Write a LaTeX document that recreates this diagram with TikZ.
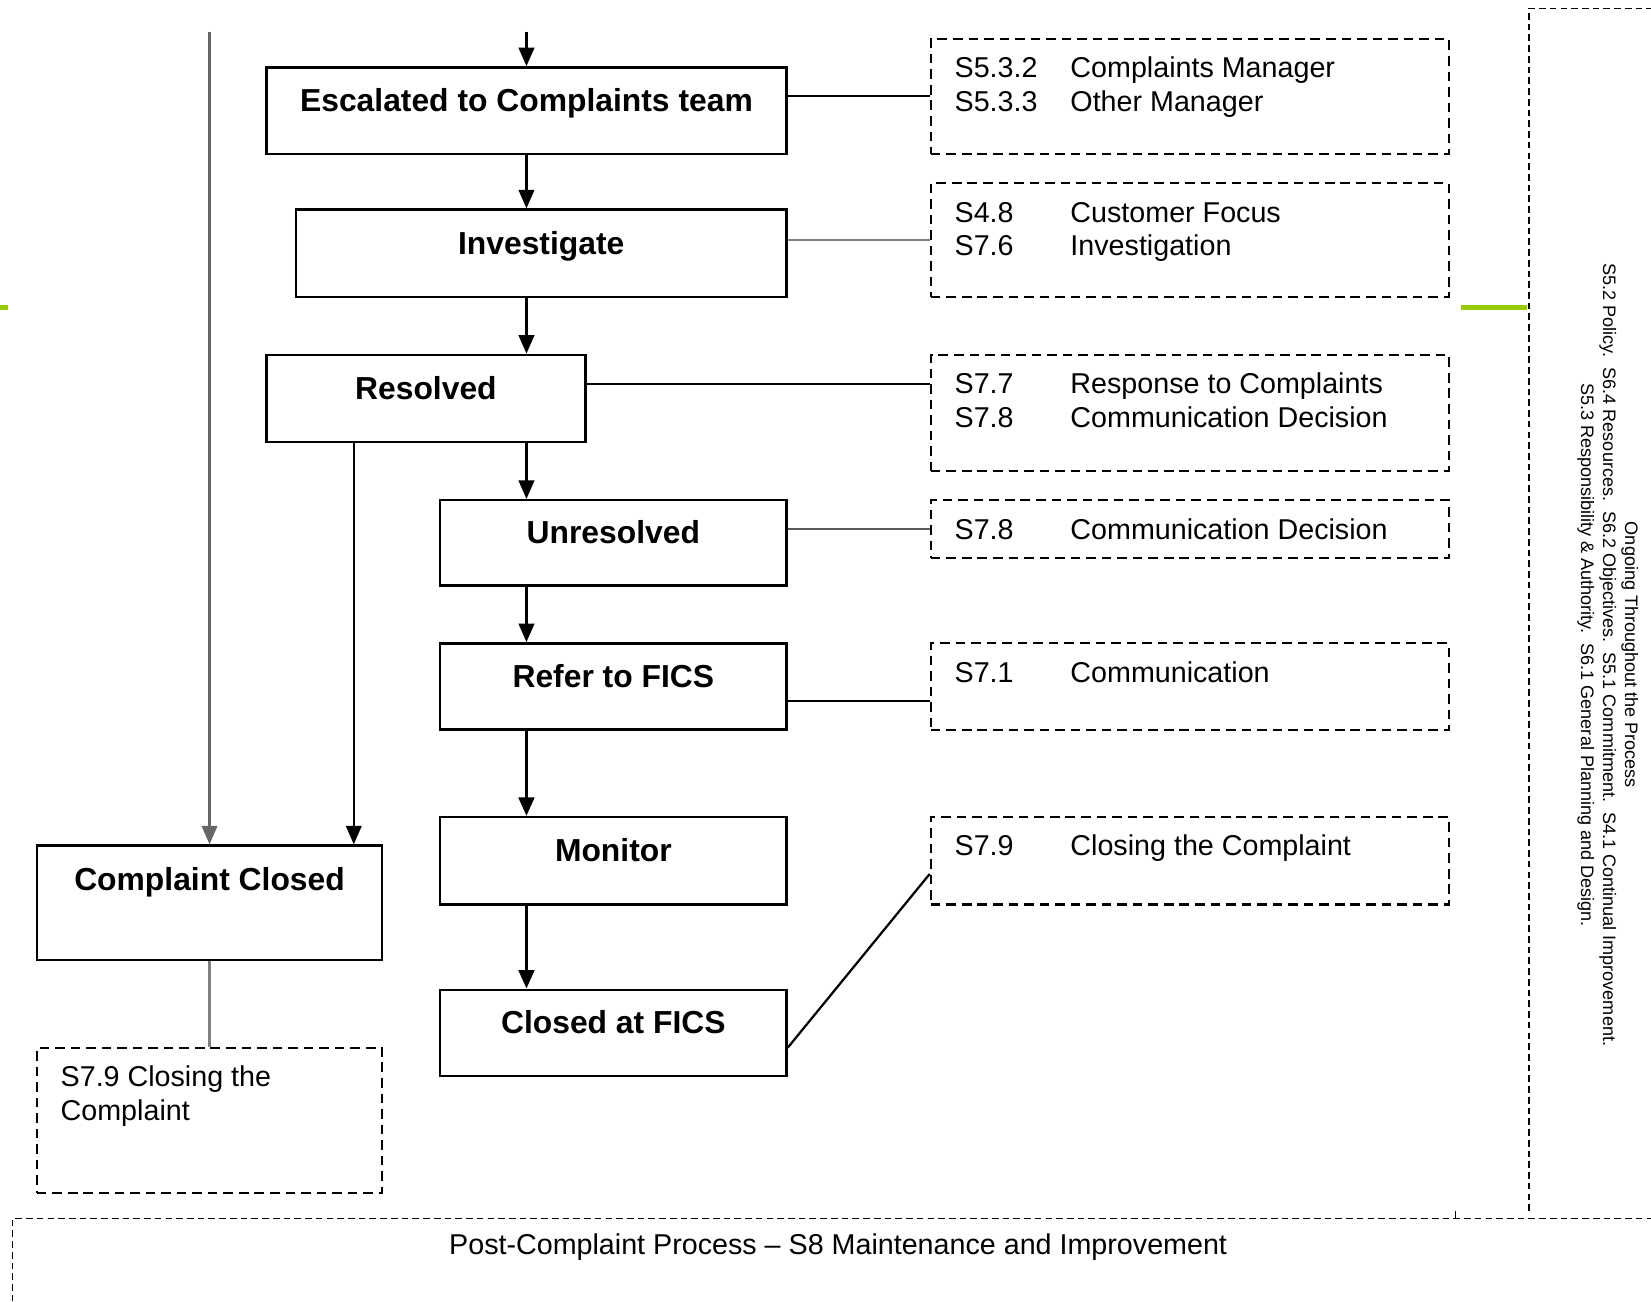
\documentclass[tikz,border=0pt]{standalone}
\usepackage{fontspec}
\setmainfont{Liberation Sans}
\usetikzlibrary{arrows.meta,calc,positioning}
\definecolor{leaf}{RGB}{153,204,0}
\newcommand{\reflines}[1]{\begin{tabular}[t]{@{}p{1.1cm}@{}l@{}}#1\end{tabular}}

\begin{document}
\begin{tikzpicture}[x=0.1mm,y=-0.1mm,
    >={Triangle[length=5pt,width=4.2pt]},
    stage/.style={draw,line width=0.65pt,inner sep=0pt,
      font=\fontsize{8.6}{10}\selectfont\bfseries,text height=7pt,text depth=6.5pt},
    note/.style={draw,line width=0.6pt,dash pattern=on 2.6pt off 1.6pt,inner sep=0pt},
    ref/.style={anchor=base west,inner sep=0pt,font=\fontsize{7.75}{9.1}\selectfont},
    link/.style={line width=0.6pt},
    frame/.style={line width=0.35pt,dash pattern=on 1.8pt off 1.1pt}]
  \useasboundingbox (0,0) rectangle (1568,1236);

  \node[stage,minimum width=4.94cm,minimum height=8.2mm] (esc) at (500,105) {Escalated to Complaints team};
  \node[stage,minimum width=4.66cm,minimum height=8.3mm] (inv) at (514,240.5) {Investigate};
  \node[stage,minimum width=3.03cm,minimum height=8.3mm] (res) at (404.5,378.5) {Resolved};
  \node[stage,minimum width=3.29cm,minimum height=8.1mm] (unres) at (582.5,515.5) {Unresolved};
  \node[stage,minimum width=3.29cm,minimum height=8.2mm] (fics) at (582.5,652) {Refer to FICS};
  \node[stage,minimum width=3.29cm,minimum height=8.3mm] (mon) at (582.5,817.5) {Monitor};
  \node[stage,minimum width=3.29cm,minimum height=8.2mm] (closedf) at (582.5,981) {Closed at FICS};
  \node[stage,minimum width=3.28cm,minimum height=10.9mm,text depth=13.6pt] (closed) at (199,857.5) {Complaint Closed};

  \node[note,minimum width=4.92cm,minimum height=10.9mm] (n1) at (1130,91.5) {};
  \node[note,minimum width=4.92cm,minimum height=10.8mm] (n2) at (1130,228) {};
  \node[note,minimum width=4.92cm,minimum height=11mm] (n3) at (1130,392) {};
  \node[note,minimum width=4.92cm,minimum height=5.5mm] (n4) at (1130,502.5) {};
  \node[note,minimum width=4.92cm,minimum height=8.2mm] (n5) at (1130,652) {};
  \node[note,minimum width=4.92cm,minimum height=8.3mm] (n6) at (1130,817.5) {};
  \node[note,minimum width=3.28cm,minimum height=13.8mm] (n7) at (199,1064) {};

  \node[ref] (t1) at ([shift={(23,38)}]n1.north west) {\reflines{S5.3.2 & Complaints Manager\\ S5.3.3 & Other Manager}};
  \node[ref] (t2) at ([shift={(23,38)}]n2.north west) {\reflines{S4.8 & Customer Focus\\ S7.6 & Investigation}};
  \node[ref] (t3) at ([shift={(23,38)}]n3.north west) {\reflines{S7.7 & Response to Complaints\\ S7.8 & Communication Decision}};
  \node[ref] (t4) at ([shift={(23,38)}]n4.north west) {\reflines{S7.8 & Communication Decision}};
  \node[ref] (t5) at ([shift={(23,38)}]n5.north west) {\reflines{S7.1 & Communication}};
  \node[ref] (t6) at ([shift={(23,38)}]n6.north west) {\reflines{S7.9 & Closing the Complaint}};
  \node[ref] (t7) at ([shift={(23,38)}]n7.north west) {\begin{tabular}[t]{@{}l@{}}S7.9 Closing the\\ Complaint\end{tabular}};

  \node[font=\fontsize{7.75}{9.1}\selectfont] (post) at (796,1184) {Post-Complaint Process \textendash\ S8 Maintenance and Improvement};
  \node[rotate=-90,align=center,font=\fontsize{4.88}{5.95}\selectfont] (ongoing) at (1527,622)
    {Ongoing Throughout the Process\\
     S5.2 Policy.\ \ S6.4 Resources.\ \ S6.2 Objectives.\ \ S5.1 Commitment.\ \ S4.1 Continual Improvement.\\
     S5.3 Responsibility \& Authority.\ \ S6.1 General Planning and Design.};

  \coordinate (entry) at (500,30);
  \coordinate (bypass) at (199,30);
  \path[->,link]
    (entry) edge (esc.north)
    (esc.south) edge (esc.south |- inv.north)
    (inv.south -| esc.south) edge (res.north -| esc.south)
    (res.south -| esc.south) edge (unres.north -| esc.south)
    (unres.south -| esc.south) edge (fics.north -| esc.south)
    (fics.south -| esc.south) edge[line width=0.9pt] (mon.north -| esc.south)
    (mon.south -| esc.south) edge[line width=0.9pt] (closedf.north -| esc.south)
    (bypass) edge[gray!80!black] (closed.north)
    (res.south -| 336,0) edge (closed.north -| 336,0);
  \path[link]
    (esc.east |- 0,91) edge (n1.west |- 0,91)
    (n2.west -| inv.east) edge[gray] (n2.west)
    (res.east |- 0,365) edge (n3.west |- 0,365)
    (n4.west -| unres.east) edge[gray!70!black] (n4.west)
    (fics.east |- 0,666) edge (n5.west |- 0,666)
    (closedf.east |- 0,995) edge (n6.west |- 0,830)
    (closed.south) edge[gray] (n7.north);

  \draw[frame] (1452,1150) -- (1452,8) -- (1568,8);
  \draw[frame] (12,1236) -- (12,1157) -- (1568,1157);
  \draw[line width=0.35pt] (1382,1150) -- (1382,1157);
  \draw[leaf,line width=1.2pt] (0,292) -- (8,292);
  \draw[leaf,line width=1.2pt] (1388,292) -- (1450,292);
\end{tikzpicture}
\end{document}
